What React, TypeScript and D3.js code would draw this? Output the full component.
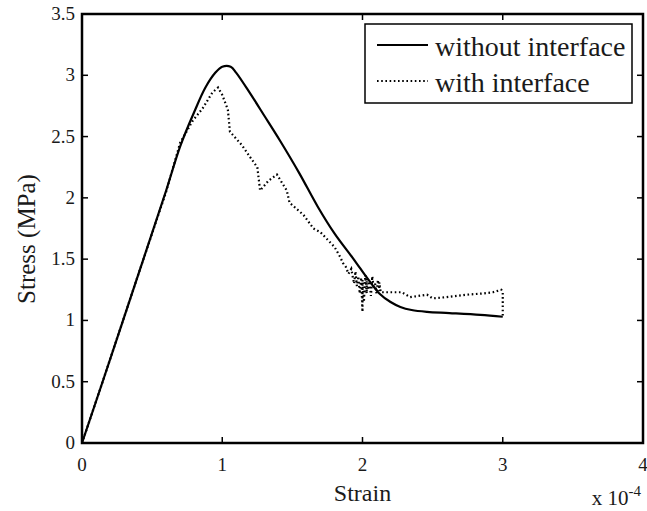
import React from "react";
import * as d3 from "d3";

const xTicks = [0, 1, 2, 3, 4];
const yTicks = [0, 0.5, 1, 1.5, 2, 2.5, 3, 3.5];
const yTickLabels = ["0", "0.5", "1", "1.5", "2", "2.5", "3", "3.5"];

// strain in units of 1e-4, stress in MPa
const withoutX = [0, 0.15, 0.4, 0.6, 0.7, 0.8, 0.88, 0.95, 1.0, 1.06, 1.1, 1.2, 1.3, 1.41, 1.55, 1.68, 1.8, 1.93, 1.98, 2.05, 2.12, 2.2, 2.27, 2.35, 2.46, 2.62, 2.84, 3.0];
const withoutY = [0, 0.51, 1.37, 2.06, 2.42, 2.7, 2.9, 3.02, 3.07, 3.07, 3.02, 2.85, 2.67, 2.47, 2.2, 1.93, 1.71, 1.51, 1.43, 1.32, 1.22, 1.15, 1.11, 1.085, 1.07, 1.06, 1.045, 1.03];

const withX = [0, 0.15, 0.4, 0.6, 0.7, 0.79, 0.86, 0.93, 0.97, 1.0, 1.04, 1.055, 1.14, 1.2, 1.25, 1.27, 1.33, 1.39, 1.46, 1.48, 1.58, 1.65, 1.7, 1.75, 1.8, 1.84, 1.86, 1.88, 1.9, 1.92, 1.94, 1.95, 1.96, 1.97, 1.98, 1.99, 2.0, 2.0, 2.01, 2.02, 2.03, 2.03, 2.04, 2.05, 2.06, 2.07, 2.08, 2.09, 2.1, 2.11, 2.12, 2.12, 2.13, 2.2, 2.28, 2.34, 2.46, 2.5, 2.6, 2.74, 2.86, 2.93, 2.99, 3.0, 3.0];
const withY = [0, 0.51, 1.37, 2.05, 2.45, 2.63, 2.73, 2.86, 2.9, 2.84, 2.72, 2.54, 2.43, 2.33, 2.25, 2.06, 2.14, 2.19, 2.06, 1.96, 1.86, 1.75, 1.72, 1.66, 1.6, 1.52, 1.47, 1.44, 1.38, 1.42, 1.3, 1.4, 1.28, 1.36, 1.22, 1.35, 1.07, 1.33, 1.15, 1.37, 1.22, 1.34, 1.25, 1.32, 1.2, 1.36, 1.26, 1.3, 1.22, 1.33, 1.24, 1.31, 1.23, 1.23, 1.23, 1.19, 1.21, 1.18, 1.19, 1.21, 1.22, 1.23, 1.25, 1.23, 1.03];

const seriesNames = ["without interface", "with interface"];

const W = 647;
const H = 511;
const L = 82, R = 643, T = 14, B = 443;
const FONT = "Liberation Serif, Times New Roman, serif";

export default function App() {
  const x = d3.scaleLinear().domain([0, 4]).range([L, R]);
  const y = d3.scaleLinear().domain([0, 3.5]).range([B, T]);
  const smooth = d3
    .line<[number, number]>()
    .x((d) => x(d[0]))
    .y((d) => y(d[1]))
    .curve(d3.curveCatmullRom.alpha(0.5));
  const straight = d3
    .line<[number, number]>()
    .x((d) => x(d[0]))
    .y((d) => y(d[1]));
  const solid = smooth(withoutX.map((v, i) => [v, withoutY[i]] as [number, number])) || "";
  const dotted = straight(withX.map((v, i) => [v, withY[i]] as [number, number])) || "";
  const tl = 6;
  const txt = { fontFamily: FONT, fill: "#1a1a1a" } as React.CSSProperties;

  return (
    <svg
      width={W}
      height={H}
      style={{ position: "absolute", left: 0, top: 0, background: "#fff" }}
    >
      <rect x={0} y={0} width={W} height={H} fill="#fff" />
      <path d={solid} fill="none" stroke="#000" strokeWidth={2.2} strokeLinejoin="round" />
      <path d={dotted} fill="none" stroke="#000" strokeWidth={2.2} strokeDasharray="1.6,2.6" />
      {xTicks.map((t) => (
        <g key={"x" + t}>
          <line x1={x(t)} x2={x(t)} y1={B} y2={B - tl} stroke="#000" strokeWidth={1.5} />
          <line x1={x(t)} x2={x(t)} y1={T} y2={T + tl} stroke="#000" strokeWidth={1.5} />
          <text x={x(t)} y={471} textAnchor="middle" fontSize={19} style={txt}>
            {t}
          </text>
        </g>
      ))}
      {yTicks.map((t, i) => (
        <g key={"y" + t}>
          <line x1={L} x2={L + tl} y1={y(t)} y2={y(t)} stroke="#000" strokeWidth={1.5} />
          <line x1={R} x2={R - tl} y1={y(t)} y2={y(t)} stroke="#000" strokeWidth={1.5} />
          <text x={75} y={y(t) + 6} textAnchor="end" fontSize={19} style={txt}>
            {yTickLabels[i]}
          </text>
        </g>
      ))}
      <rect x={L} y={T} width={R - L} height={B - T} fill="none" stroke="#000" strokeWidth={2.5} />
      <text x={(L + R) / 2} y={501} textAnchor="middle" fontSize={24} style={txt}>
        Strain
      </text>
      <text
        transform={`translate(35, 239) rotate(-90)`}
        textAnchor="middle"
        fontSize={25}
        style={txt}
      >
        Stress (MPa)
      </text>
      <text x={641} y={505} textAnchor="end" fontSize={21} style={txt}>
        x 10<tspan dy={-9} fontSize={15}>-4</tspan>
      </text>
      <rect x={365} y={24} width={267} height={79} fill="#fff" stroke="#000" strokeWidth={1.5} />
      <line x1={377} x2={428} y1={45} y2={45} stroke="#000" strokeWidth={2.2} />
      <line x1={377} x2={428} y1={81} y2={81} stroke="#000" strokeWidth={2.2} strokeDasharray="1.6,2.6" />
      <text x={435} y={56} fontSize={28} style={txt}>
        {seriesNames[0]}
      </text>
      <text x={435} y={92} fontSize={28} style={txt}>
        {seriesNames[1]}
      </text>
    </svg>
  );
}
